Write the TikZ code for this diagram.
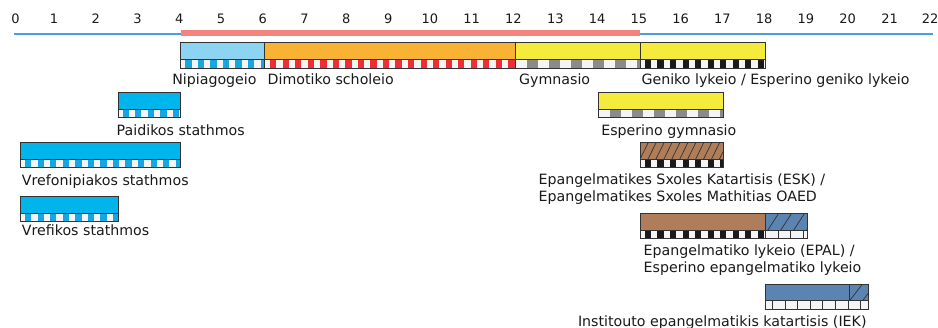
\documentclass[tikz,border=0pt]{standalone}
\usepackage{fontspec}
\setmainfont{DejaVu Sans}
\definecolor{txt}{RGB}{25,25,25}
\definecolor{edge}{RGB}{50,50,50}
\definecolor{cellwhite}{RGB}{244,244,244}
\definecolor{nipblue}{RGB}{140,212,242}
\definecolor{cyanbox}{RGB}{0,181,236}
\definecolor{stripeblue}{RGB}{24,165,224}
\definecolor{orangebox}{RGB}{249,178,51}
\definecolor{stripered}{RGB}{237,46,56}
\definecolor{yellowbox}{RGB}{244,235,60}
\definecolor{stripegray}{RGB}{137,139,141}
\definecolor{stripeblack}{RGB}{26,26,30}
\definecolor{brownbox}{RGB}{176,125,91}
\definecolor{steelbox}{RGB}{91,132,176}
\definecolor{axisblue}{RGB}{74,159,224}
\definecolor{redbar}{RGB}{244,131,125}
\tikzset{
  lab/.style={font=\fontsize{14.2}{17}\selectfont, text=txt, anchor=base west, inner sep=0pt, outer sep=0pt},
  ticklab/.style={font=\fontsize{13}{15}\selectfont, text=txt, anchor=base, inner sep=0pt},
  boxline/.style={draw=edge, line width=0.9pt},
  hatchline/.style={draw=edge, line width=0.7pt},
  divline/.style={draw=edge, line width=0.8pt},
}
% x1,x2,ytop,ybot,colour,period,offset
\newcommand{\cstripes}[7]{%
  \begin{scope}
    \clip (#1,#3) rectangle (#2,#4);
    \fill[cellwhite] (#1,#3) rectangle (#2,#4);
    \foreach \k in {0,...,40}{%
      \fill[#5] ({#1+#7+\k*#6},#3) rectangle ({#1+#7+\k*#6+#6/2},#4);}
  \end{scope}}
% x1,x2,ytop,ybot,period,offset
\newcommand{\cdividers}[6]{%
  \begin{scope}
    \clip (#1,#3) rectangle (#2,#4);
    \fill[cellwhite] (#1,#3) rectangle (#2,#4);
    \foreach \k in {0,...,20}{%
      \draw[divline] ({#1+#6+\k*#5},#3) -- ({#1+#6+\k*#5},#4);}
  \end{scope}}
% x1,x2,ytop,ybot,colour,spacing,dx
\newcommand{\hatchfill}[7]{%
  \begin{scope}
    \clip (#1,#3) rectangle (#2,#4);
    \fill[#5] (#1,#3) rectangle (#2,#4);
    \foreach \k in {0,...,30}{%
      \draw[hatchline] ({#1-#7+\k*#6},#4) -- ({#1+\k*#6},#3);}
  \end{scope}}
\begin{document}
\begin{tikzpicture}[x=41.78pt,y=-1pt]
\useasboundingbox (-0.32552,0) rectangle (22.12542,328);

% axis
\node[ticklab] (t0) at (0.045,24) {0};
\foreach \t in {1,...,21}{\node[ticklab] (t\t) at (\t-0.035,24) {\t};}
\node[ticklab] (t22) at (21.935,24) {22};
\coordinate (a0) at (0,34);
\coordinate (a22) at (22,34);
\draw[axisblue, line width=1.1pt] (a0) -- (a22);
\fill[redbar] (4,30) rectangle (15,35.8);

% ---- row 1
\fill[nipblue] (4,42.5) rectangle (6,59.5);
\cstripes{4}{6}{59.5}{68}{stripeblue}{0.3}{0.11}
\fill[orangebox] (6,42.5) rectangle (12,59.5);
\cstripes{6}{12}{59.5}{68}{stripered}{0.3}{0.14}
\fill[yellowbox] (12,42.5) rectangle (15,59.5);
\cstripes{12}{15}{59.5}{68}{stripegray}{0.527}{0.28}
\fill[yellowbox] (15,42.5) rectangle (18,59.5);
\cstripes{15}{18}{59.5}{68}{stripeblack}{0.3}{0.11}
\draw[boxline] (4,42.5) rectangle (18,68);
\draw[boxline] (4,59.5) -- (18,59.5);
\draw[boxline] (6,42.5) -- (6,68);
\draw[boxline] (12,42.5) -- (12,68);
\draw[boxline] (15,42.5) -- (15,68);

\node[lab] (nip) at (3.798,85) {Nipiagogeio};
\node[lab] (dim) at (6.082,85) {Dimotiko scholeio};
\node[lab] (gym) at (12.101,85) {Gymnasio};
\node[lab] (gen) at (15.029,85) {Geniko lykeio / Esperino geniko lykeio};

% ---- Paidikos stathmos
\fill[cyanbox] (2.5,92.5) rectangle (4,109.5);
\cstripes{2.5}{4}{109.5}{117.8}{stripeblue}{0.3}{0.11}
\draw[boxline] (2.5,92.5) rectangle (4,117.8);
\draw[boxline] (2.5,109.5) -- (4,109.5);
\node[lab] (paid) at (2.468,135.7) {Paidikos stathmos};

% ---- Esperino gymnasio
\fill[yellowbox] (14,92.5) rectangle (17,109.5);
\cstripes{14}{17}{109.5}{117.8}{stripegray}{0.527}{0.28}
\draw[boxline] (14,92.5) rectangle (17,117.8);
\draw[boxline] (14,109.5) -- (17,109.5);
\node[lab] (espg) at (14.066,135.2) {Esperino gymnasio};

% ---- Vrefonipiakos stathmos
\fill[cyanbox] (0.1667,142.5) rectangle (4,159.5);
\cstripes{0.1667}{4}{159.5}{167.8}{stripeblue}{0.3}{0.11}
\draw[boxline] (0.1667,142.5) rectangle (4,167.8);
\draw[boxline] (0.1667,159.5) -- (4,159.5);
\node[lab] (vrefn) at (0.199,185.3) {Vrefonipiakos stathmos};

% ---- ESK
\hatchfill{15}{17}{142.5}{159.5}{brownbox}{0.19}{0.2}
\cstripes{15}{17}{159.5}{167.8}{stripeblack}{0.3}{0.11}
\draw[boxline] (15,142.5) rectangle (17,167.8);
\draw[boxline] (15,159.5) -- (17,159.5);
\node[lab] (esk1) at (12.568,185) {Epangelmatikes Sxoles Katartisis (ESK) /};
\node[lab] (esk2) at (12.568,201.7) {Epangelmatikes Sxoles Mathitias OAED};

% ---- Vrefikos stathmos
\fill[cyanbox] (0.1667,196.8) rectangle (2.5,213.5);
\cstripes{0.1667}{2.5}{213.5}{221.8}{stripeblue}{0.3}{0.11}
\draw[boxline] (0.1667,196.8) rectangle (2.5,221.8);
\draw[boxline] (0.1667,213.5) -- (2.5,213.5);
\node[lab] (vref) at (0.199,235.7) {Vrefikos stathmos};

% ---- EPAL
\fill[brownbox] (15,213.5) rectangle (18,230.2);
\hatchfill{18}{19}{213.5}{230.2}{steelbox}{0.31}{0.26}
\cstripes{15}{18}{230.2}{238.5}{stripeblack}{0.3}{0.11}
\cdividers{18}{19}{230.2}{238.5}{0.3}{0.0}
\draw[boxline] (15,213.5) rectangle (19,238.5);
\draw[boxline] (15,230.2) -- (19,230.2);
\draw[boxline] (18,213.5) -- (18,238.5);
\node[lab] (epal1) at (15.081,256) {Epangelmatiko lykeio (EPAL) /};
\node[lab] (epal2) at (15.081,273) {Esperino epangelmatiko lykeio};

% ---- IEK
\fill[steelbox] (18,284.5) rectangle (20,300.6);
\hatchfill{20}{20.45}{284.5}{300.6}{steelbox}{0.31}{0.3}
\cdividers{18}{20.45}{300.6}{309}{0.3}{0.17}
\draw[boxline] (18,284.5) rectangle (20.45,309);
\draw[boxline] (18,300.6) -- (20.45,300.6);
\draw[boxline] (20,284.5) -- (20,300.6);
\node[lab] (iek) at (13.509,326.3) {Institouto epangelmatikis katartisis (IEK)};
\end{tikzpicture}
\end{document}
